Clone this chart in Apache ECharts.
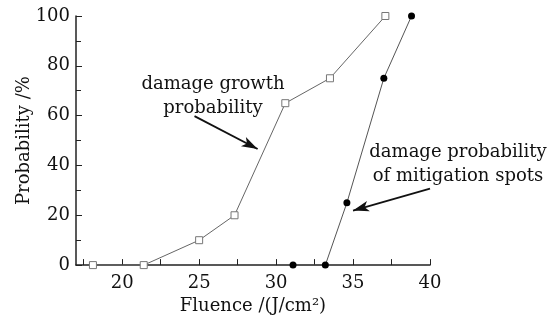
<!DOCTYPE html>
<html>
<head>
<meta charset="utf-8">
<script src="https://cdn.jsdelivr.net/npm/echarts@6/dist/echarts.min.js"></script>
<style>
  html, body { margin: 0; padding: 0; background: #fff; }
  #chart { width: 558px; height: 320px; }
</style>
</head>
<body>
<div id="chart"></div>
<script>
// damage growth probability (open squares)
const growthX = [18.1, 21.4, 25.0, 27.3, 30.6, 33.5, 37.1]
const growthY = [0, 0, 10, 20, 65, 75, 100]
// damage probability of mitigation spots (filled circles)
const spotsX = [31.1, 33.2, 34.6, 37.0, 38.8]
const spotsY = [0, 0, 25, 75, 100]
// x tick labels
const xLabels = [20, 25, 30, 35, 40]
const xTicks = [17.5, 20, 22.5, 25, 27.5, 30, 32.5, 35, 37.5, 40]

const font = 'DejaVu Serif'

const chart = echarts.init(document.getElementById('chart'))

const option = {
  animation: false,
  backgroundColor: '#fff',
  grid: { left: 76, right: 128, top: 16, bottom: 53 },
  xAxis: {
    type: 'value',
    min: 17, max: 40,
    axisTick: { inside: true, length: 6, lineStyle: { color: '#222' }, customValues: xTicks },
    axisLabel: { customValues: xLabels, color: '#111', fontFamily: font, fontSize: 18, margin: 9 },
    axisLine: { lineStyle: { color: '#222', width: 1.5 } },
    splitLine: { show: false },
    name: 'Fluence /(J/cm²)',
    nameLocation: 'middle',
    nameGap: 24,
    nameTextStyle: { color: '#111', fontFamily: font, fontSize: 18 }
  },
  yAxis: {
    type: 'value',
    min: 0, max: 100, interval: 20,
    axisTick: { inside: true, length: 6, lineStyle: { color: '#222' } },
    minorTick: { show: true, splitNumber: 2, length: 5, lineStyle: { color: '#222' } },
    axisLabel: { color: '#111', fontFamily: font, fontSize: 18, margin: 6 },
    axisLine: { show: true, lineStyle: { color: '#222', width: 1.5 } },
    splitLine: { show: false },
    name: 'Probability /%',
    nameLocation: 'middle',
    nameGap: 43,
    nameMoveOverlap: false,
    nameTextStyle: { color: '#111', fontFamily: font, fontSize: 18 }
  },
  series: [
    {
      type: 'line',
      data: growthX.map((x, i) => [x, growthY[i]]),
      symbol: 'rect',
      symbolSize: 7,
      clip: false,
      lineStyle: { color: '#666', width: 1 },
      itemStyle: { color: '#fff', borderColor: '#777', borderWidth: 1 },
      markLine: {
        silent: true,
        symbol: ['none', 'arrow'],
        symbolSize: [8, 16],
        label: { show: false },
        lineStyle: { color: '#111', width: 1.8, type: 'solid' },
        data: [[{ coord: [24.7, 59.8] }, { coord: [28.8, 46.6] }]]
      }
    },
    {
      type: 'line',
      data: spotsX.map((x, i) => [x, spotsY[i]]),
      symbol: 'circle',
      symbolSize: 7,
      clip: false,
      lineStyle: { color: '#555', width: 1 },
      itemStyle: { color: '#000' },
      markLine: {
        silent: true,
        symbol: ['none', 'arrow'],
        symbolSize: [8, 16],
        label: { show: false },
        lineStyle: { color: '#111', width: 1.8, type: 'solid' },
        data: [[{ coord: [40, 30.7] }, { coord: [35.0, 21.9] }]]
      }
    }
  ],
  graphic: [
    {
      type: 'text', x: 213, y: 72,
      style: { text: 'damage growth\nprobability', fill: '#111', font: '18px "DejaVu Serif"', align: 'center', verticalAlign: 'top', lineHeight: 24 }
    },
    {
      type: 'text', x: 458, y: 140,
      style: { text: 'damage probability\nof mitigation spots', fill: '#111', font: '18px "DejaVu Serif"', align: 'center', verticalAlign: 'top', lineHeight: 24 }
    }
  ]
}

chart.setOption(option)
</script>
</body>
</html>
